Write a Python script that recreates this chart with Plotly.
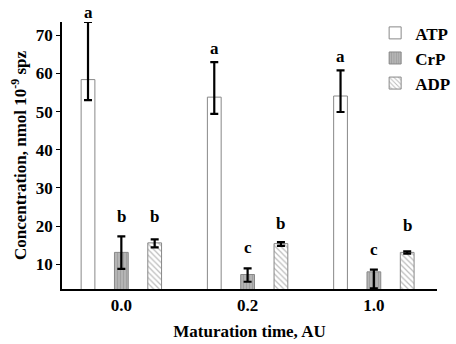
import plotly.graph_objects as go

categories = ["0.0", "0.2", "1.0"]
series_names = ["ATP", "CrP", "ADP"]

atp = [58.4, 53.8, 54.1]
atp_err_plus = [15.1, 9.2, 6.7]
atp_err_minus = [5.4, 4.4, 4.2]

crp = [13.1, 7.3, 8.0]
crp_err_plus = [4.2, 1.6, 0.6]
crp_err_minus = [4.3, 1.9, 4.3]

adp = [15.6, 15.4, 13.1]
adp_err_plus = [0.9, 0.4, 0.3]
adp_err_minus = [1.2, 0.6, 0.3]

letters_atp = ["a", "a", "a"]
letters_crp = ["b", "c", "c"]
letters_adp = ["b", "b", "b"]
letter_y_atp = [76.0, 66.5, 64.4]
letter_y_crp = [22.6, 14.3, 13.8]
letter_y_adp = [22.6, 20.8, 20.1]

y_ticks = [10, 20, 30, 40, 50, 60, 70]
Y_RANGE = [3.5, 73.5]

FONT = dict(family="Liberation Serif, Times New Roman, serif", size=17, color="black", weight="bold")
BARGAP = 0.208
BARGROUPGAP = 0.587
slot = (1 - BARGAP) / 3

err_style = dict(type="data", symmetric=False, color="black", thickness=2.2, width=4)
line_style = dict(color="#888888", width=1)

fig = go.Figure()
fig.add_trace(go.Bar(
    name="ATP", x=categories, y=atp,
    marker=dict(color="white", line=line_style),
    error_y=dict(array=atp_err_plus, arrayminus=atp_err_minus, **err_style),
))
fig.add_trace(go.Bar(
    name="CrP", x=categories, y=crp,
    marker=dict(color="#b4b4b4", line=line_style,
                pattern=dict(shape="|", fgcolor="#888888", bgcolor="#b4b4b4", size=3, solidity=0.3)),
    error_y=dict(array=crp_err_plus, arrayminus=crp_err_minus, **err_style),
))
fig.add_trace(go.Bar(
    name="ADP", x=categories, y=adp,
    marker=dict(color="white", line=line_style,
                pattern=dict(shape="\\", fgcolor="#777777", bgcolor="white", size=4, solidity=0.3)),
    error_y=dict(array=adp_err_plus, arrayminus=adp_err_minus, **err_style),
))

annotations = []
for i in range(len(categories)):
    for off, lets, ys in ((-slot, letters_atp, letter_y_atp),
                          (0, letters_crp, letter_y_crp),
                          (slot, letters_adp, letter_y_adp)):
        annotations.append(dict(x=i + off, xref="x",
                                y=(ys[i] - Y_RANGE[0]) / (Y_RANGE[1] - Y_RANGE[0]), yref="paper",
                                xanchor="center", yanchor="middle",
                                text=lets[i], showarrow=False, font=FONT))

fig.update_layout(
    width=456, height=344,
    margin=dict(l=62, r=1, t=22, b=55),
    paper_bgcolor="white", plot_bgcolor="white",
    font=FONT,
    barmode="group", bargap=BARGAP, bargroupgap=BARGROUPGAP,
    showlegend=True,
    legend=dict(x=0.835, y=1.025, xanchor="left", yanchor="top", bgcolor="rgba(0,0,0,0)",
                font=dict(family=FONT["family"], size=17, color="black", weight="bold"),
                itemwidth=30, tracegroupgap=0),
    annotations=annotations,
    xaxis=dict(type="category", range=[-0.47, 2.5], showline=True, linecolor="black", linewidth=1.5,
               ticks="", showgrid=False, zeroline=False,
               title=dict(text="Maturation time, AU", standoff=11, font=FONT)),
    yaxis=dict(range=Y_RANGE, tickvals=y_ticks, showline=True, linecolor="black", linewidth=1.5,
               ticks="outside", ticklen=4, tickcolor="black", showgrid=False, zeroline=False,
               title=dict(text="Concentration, nmol 10<sup>-9</sup> spz", standoff=5, font=FONT)),
)

fig.write_html("out.html")
